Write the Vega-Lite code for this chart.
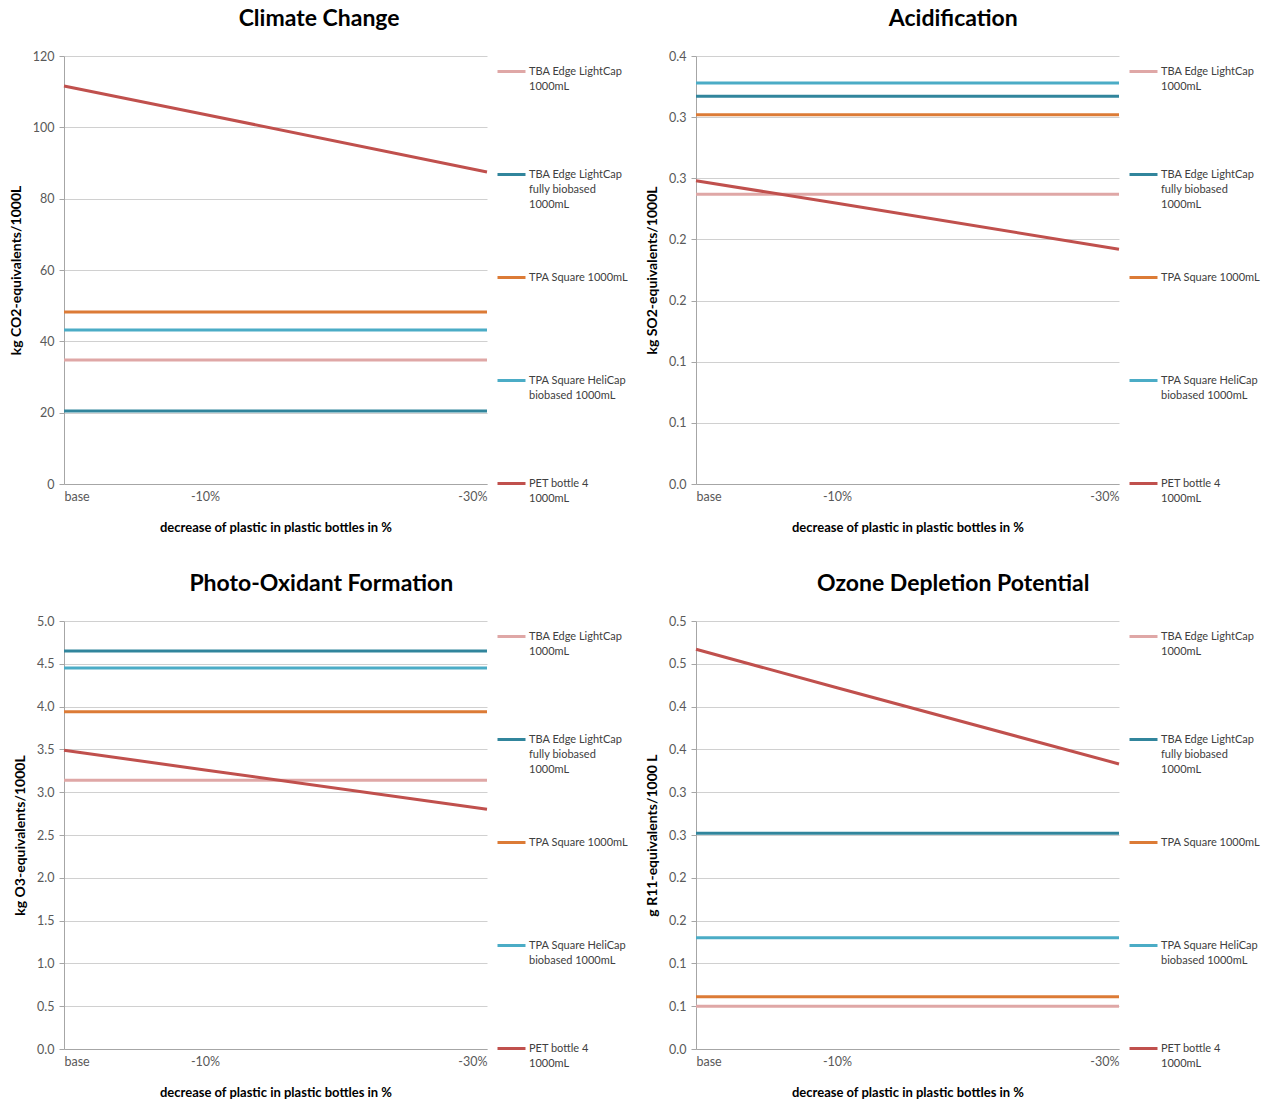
{
  "$schema": "https://vega.github.io/schema/vega-lite/v6.json",
  "background": "white",
  "padding": {"left": 9, "top": 8, "right": 2, "bottom": 5},
  "config": {
    "font": "Lato",
    "view": {"stroke": null},
    "title": {"fontSize": 23, "fontWeight": "bold", "color": "#000000", "anchor": "middle", "frame": "bounds", "offset": 19},
    "axis": {"labelFont": "Lato", "labelFontSize": 12.5, "labelColor": "#595959", "titleFontSize": 13, "titleFontWeight": "bold", "titleColor": "#000000", "domainColor": "#A6A6A6", "tickColor": "#A6A6A6", "gridColor": "#D0D0D0", "gridWidth": 1},
    "axisX": {"grid": false, "ticks": false, "labelPadding": 6, "titlePadding": 19, "labelFlush": true},
    "axisY": {"tickSize": 5, "labelPadding": 5, "titlePadding": 9, "titleFontSize": 14},
    "legend": {"title": null, "symbolType": "stroke", "symbolSize": 784, "symbolStrokeWidth": 3, "labelFontSize": 11, "labelColor": "#404040", "labelFont": "Lato", "gridAlign": "all", "rowPadding": 52, "offset": 3, "labelOffset": 2, "labelLimit": 200, "padding": 0},
    "style": {"guide-label": {"lineHeight": 15}},
    "concat": {"spacing": 20}
  },
  "data": {"values": [
    {"chart": "Climate Change", "product": "TBA Edge LightCap 1000mL", "x": 0, "value": 34.8},
    {"chart": "Climate Change", "product": "TBA Edge LightCap 1000mL", "x": 10, "value": 34.8},
    {"chart": "Climate Change", "product": "TBA Edge LightCap 1000mL", "x": 30, "value": 34.8},
    {"chart": "Climate Change", "product": "TBA Edge LightCap fully biobased 1000mL", "x": 0, "value": 20.5},
    {"chart": "Climate Change", "product": "TBA Edge LightCap fully biobased 1000mL", "x": 10, "value": 20.5},
    {"chart": "Climate Change", "product": "TBA Edge LightCap fully biobased 1000mL", "x": 30, "value": 20.5},
    {"chart": "Climate Change", "product": "TPA Square 1000mL", "x": 0, "value": 48.2},
    {"chart": "Climate Change", "product": "TPA Square 1000mL", "x": 10, "value": 48.2},
    {"chart": "Climate Change", "product": "TPA Square 1000mL", "x": 30, "value": 48.2},
    {"chart": "Climate Change", "product": "TPA Square HeliCap biobased 1000mL", "x": 0, "value": 43.2},
    {"chart": "Climate Change", "product": "TPA Square HeliCap biobased 1000mL", "x": 10, "value": 43.2},
    {"chart": "Climate Change", "product": "TPA Square HeliCap biobased 1000mL", "x": 30, "value": 43.2},
    {"chart": "Climate Change", "product": "PET bottle 4 1000mL", "x": 0, "value": 111.6},
    {"chart": "Climate Change", "product": "PET bottle 4 1000mL", "x": 10, "value": 103.6},
    {"chart": "Climate Change", "product": "PET bottle 4 1000mL", "x": 30, "value": 87.5},

    {"chart": "Acidification", "product": "TBA Edge LightCap 1000mL", "x": 0, "value": 0.237},
    {"chart": "Acidification", "product": "TBA Edge LightCap 1000mL", "x": 10, "value": 0.237},
    {"chart": "Acidification", "product": "TBA Edge LightCap 1000mL", "x": 30, "value": 0.237},
    {"chart": "Acidification", "product": "TBA Edge LightCap fully biobased 1000mL", "x": 0, "value": 0.317},
    {"chart": "Acidification", "product": "TBA Edge LightCap fully biobased 1000mL", "x": 10, "value": 0.317},
    {"chart": "Acidification", "product": "TBA Edge LightCap fully biobased 1000mL", "x": 30, "value": 0.317},
    {"chart": "Acidification", "product": "TPA Square 1000mL", "x": 0, "value": 0.302},
    {"chart": "Acidification", "product": "TPA Square 1000mL", "x": 10, "value": 0.302},
    {"chart": "Acidification", "product": "TPA Square 1000mL", "x": 30, "value": 0.302},
    {"chart": "Acidification", "product": "TPA Square HeliCap biobased 1000mL", "x": 0, "value": 0.328},
    {"chart": "Acidification", "product": "TPA Square HeliCap biobased 1000mL", "x": 10, "value": 0.328},
    {"chart": "Acidification", "product": "TPA Square HeliCap biobased 1000mL", "x": 30, "value": 0.328},
    {"chart": "Acidification", "product": "PET bottle 4 1000mL", "x": 0, "value": 0.248},
    {"chart": "Acidification", "product": "PET bottle 4 1000mL", "x": 10, "value": 0.2295},
    {"chart": "Acidification", "product": "PET bottle 4 1000mL", "x": 30, "value": 0.192},

    {"chart": "Photo-Oxidant Formation", "product": "TBA Edge LightCap 1000mL", "x": 0, "value": 3.14},
    {"chart": "Photo-Oxidant Formation", "product": "TBA Edge LightCap 1000mL", "x": 10, "value": 3.14},
    {"chart": "Photo-Oxidant Formation", "product": "TBA Edge LightCap 1000mL", "x": 30, "value": 3.14},
    {"chart": "Photo-Oxidant Formation", "product": "TBA Edge LightCap fully biobased 1000mL", "x": 0, "value": 4.65},
    {"chart": "Photo-Oxidant Formation", "product": "TBA Edge LightCap fully biobased 1000mL", "x": 10, "value": 4.65},
    {"chart": "Photo-Oxidant Formation", "product": "TBA Edge LightCap fully biobased 1000mL", "x": 30, "value": 4.65},
    {"chart": "Photo-Oxidant Formation", "product": "TPA Square 1000mL", "x": 0, "value": 3.94},
    {"chart": "Photo-Oxidant Formation", "product": "TPA Square 1000mL", "x": 10, "value": 3.94},
    {"chart": "Photo-Oxidant Formation", "product": "TPA Square 1000mL", "x": 30, "value": 3.94},
    {"chart": "Photo-Oxidant Formation", "product": "TPA Square HeliCap biobased 1000mL", "x": 0, "value": 4.45},
    {"chart": "Photo-Oxidant Formation", "product": "TPA Square HeliCap biobased 1000mL", "x": 10, "value": 4.45},
    {"chart": "Photo-Oxidant Formation", "product": "TPA Square HeliCap biobased 1000mL", "x": 30, "value": 4.45},
    {"chart": "Photo-Oxidant Formation", "product": "PET bottle 4 1000mL", "x": 0, "value": 3.49},
    {"chart": "Photo-Oxidant Formation", "product": "PET bottle 4 1000mL", "x": 10, "value": 3.26},
    {"chart": "Photo-Oxidant Formation", "product": "PET bottle 4 1000mL", "x": 30, "value": 2.80},

    {"chart": "Ozone Depletion Potential", "product": "TBA Edge LightCap 1000mL", "x": 0, "value": 0.050},
    {"chart": "Ozone Depletion Potential", "product": "TBA Edge LightCap 1000mL", "x": 10, "value": 0.050},
    {"chart": "Ozone Depletion Potential", "product": "TBA Edge LightCap 1000mL", "x": 30, "value": 0.050},
    {"chart": "Ozone Depletion Potential", "product": "TBA Edge LightCap fully biobased 1000mL", "x": 0, "value": 0.252},
    {"chart": "Ozone Depletion Potential", "product": "TBA Edge LightCap fully biobased 1000mL", "x": 10, "value": 0.252},
    {"chart": "Ozone Depletion Potential", "product": "TBA Edge LightCap fully biobased 1000mL", "x": 30, "value": 0.252},
    {"chart": "Ozone Depletion Potential", "product": "TPA Square 1000mL", "x": 0, "value": 0.061},
    {"chart": "Ozone Depletion Potential", "product": "TPA Square 1000mL", "x": 10, "value": 0.061},
    {"chart": "Ozone Depletion Potential", "product": "TPA Square 1000mL", "x": 30, "value": 0.061},
    {"chart": "Ozone Depletion Potential", "product": "TPA Square HeliCap biobased 1000mL", "x": 0, "value": 0.130},
    {"chart": "Ozone Depletion Potential", "product": "TPA Square HeliCap biobased 1000mL", "x": 10, "value": 0.130},
    {"chart": "Ozone Depletion Potential", "product": "TPA Square HeliCap biobased 1000mL", "x": 30, "value": 0.130},
    {"chart": "Ozone Depletion Potential", "product": "PET bottle 4 1000mL", "x": 0, "value": 0.467},
    {"chart": "Ozone Depletion Potential", "product": "PET bottle 4 1000mL", "x": 10, "value": 0.422},
    {"chart": "Ozone Depletion Potential", "product": "PET bottle 4 1000mL", "x": 30, "value": 0.333}
  ]},
  "resolve": {"scale": {"color": "independent"}, "legend": {"color": "independent"}},
  "spacing": 38,
  "vconcat": [
    {
      "resolve": {"scale": {"color": "independent"}, "legend": {"color": "independent"}},
      "spacing": 16,
      "hconcat": [
        {
          "title": "Climate Change",
          "width": 423, "height": 428,
          "transform": [{"filter": "datum.chart == 'Climate Change'"}],
          "mark": {"type": "line", "strokeWidth": 3},
          "encoding": {
            "x": {"field": "x", "type": "quantitative", "scale": {"domain": [0, 30], "nice": false}, "axis": {"values": [0, 10, 30], "labelExpr": "datum.value == 0 ? 'base' : '-' + datum.value + '%'", "title": "decrease of  plastic in plastic bottles in %"}},
            "y": {"field": "value", "type": "quantitative", "scale": {"domain": [0, 120], "nice": false}, "axis": {"values": [0, 20, 40, 60, 80, 100, 120], "title": "kg CO2-equivalents/1000L"}},
            "color": {"field": "product", "type": "nominal",
              "scale": {"domain": ["TBA Edge LightCap 1000mL", "TBA Edge LightCap fully biobased 1000mL", "TPA Square 1000mL", "TPA Square HeliCap biobased 1000mL", "PET bottle 4 1000mL"], "range": ["#DFA7A6", "#31859C", "#DC7B36", "#4BACC6", "#C0504D"]},
              "legend": {"labelExpr": "datum.label == 'TBA Edge LightCap 1000mL' ? ['TBA Edge LightCap', '1000mL'] : datum.label == 'TBA Edge LightCap fully biobased 1000mL' ? ['TBA Edge LightCap', 'fully biobased', '1000mL'] : datum.label == 'TPA Square HeliCap biobased 1000mL' ? ['TPA Square HeliCap', 'biobased 1000mL'] : datum.label == 'PET bottle 4 1000mL' ? ['PET bottle 4', '1000mL'] : datum.label"}}
          }
        },
        {
          "title": "Acidification",
          "width": 423, "height": 428,
          "transform": [{"filter": "datum.chart == 'Acidification'"}],
          "mark": {"type": "line", "strokeWidth": 3},
          "encoding": {
            "x": {"field": "x", "type": "quantitative", "scale": {"domain": [0, 30], "nice": false}, "axis": {"values": [0, 10, 30], "labelExpr": "datum.value == 0 ? 'base' : '-' + datum.value + '%'", "title": "decrease of  plastic in plastic bottles in %"}},
            "y": {"field": "value", "type": "quantitative", "scale": {"domain": [0, 0.35], "nice": false}, "axis": {"values": [0, 0.05, 0.1, 0.15, 0.2, 0.25, 0.3, 0.35], "labelExpr": "format(round(datum.value*10)/10, '.1f')", "title": "kg SO2-equivalents/1000L"}},
            "color": {"field": "product", "type": "nominal",
              "scale": {"domain": ["TBA Edge LightCap 1000mL", "TBA Edge LightCap fully biobased 1000mL", "TPA Square 1000mL", "TPA Square HeliCap biobased 1000mL", "PET bottle 4 1000mL"], "range": ["#DFA7A6", "#31859C", "#DC7B36", "#4BACC6", "#C0504D"]},
              "legend": {"labelExpr": "datum.label == 'TBA Edge LightCap 1000mL' ? ['TBA Edge LightCap', '1000mL'] : datum.label == 'TBA Edge LightCap fully biobased 1000mL' ? ['TBA Edge LightCap', 'fully biobased', '1000mL'] : datum.label == 'TPA Square HeliCap biobased 1000mL' ? ['TPA Square HeliCap', 'biobased 1000mL'] : datum.label == 'PET bottle 4 1000mL' ? ['PET bottle 4', '1000mL'] : datum.label"}}
          }
        }
      ]
    },
    {
      "resolve": {"scale": {"color": "independent"}, "legend": {"color": "independent"}},
      "spacing": 16,
      "hconcat": [
        {
          "title": "Photo-Oxidant Formation",
          "width": 423, "height": 428,
          "transform": [{"filter": "datum.chart == 'Photo-Oxidant Formation'"}],
          "mark": {"type": "line", "strokeWidth": 3},
          "encoding": {
            "x": {"field": "x", "type": "quantitative", "scale": {"domain": [0, 30], "nice": false}, "axis": {"values": [0, 10, 30], "labelExpr": "datum.value == 0 ? 'base' : '-' + datum.value + '%'", "title": "decrease of  plastic in plastic bottles in %"}},
            "y": {"field": "value", "type": "quantitative", "scale": {"domain": [0, 5], "nice": false}, "axis": {"values": [0, 0.5, 1, 1.5, 2, 2.5, 3, 3.5, 4, 4.5, 5], "format": ".1f", "title": "kg O3-equivalents/1000L"}},
            "color": {"field": "product", "type": "nominal",
              "scale": {"domain": ["TBA Edge LightCap 1000mL", "TBA Edge LightCap fully biobased 1000mL", "TPA Square 1000mL", "TPA Square HeliCap biobased 1000mL", "PET bottle 4 1000mL"], "range": ["#DFA7A6", "#31859C", "#DC7B36", "#4BACC6", "#C0504D"]},
              "legend": {"labelExpr": "datum.label == 'TBA Edge LightCap 1000mL' ? ['TBA Edge LightCap', '1000mL'] : datum.label == 'TBA Edge LightCap fully biobased 1000mL' ? ['TBA Edge LightCap', 'fully biobased', '1000mL'] : datum.label == 'TPA Square HeliCap biobased 1000mL' ? ['TPA Square HeliCap', 'biobased 1000mL'] : datum.label == 'PET bottle 4 1000mL' ? ['PET bottle 4', '1000mL'] : datum.label"}}
          }
        },
        {
          "title": "Ozone Depletion Potential",
          "width": 423, "height": 428,
          "transform": [{"filter": "datum.chart == 'Ozone Depletion Potential'"}],
          "mark": {"type": "line", "strokeWidth": 3},
          "encoding": {
            "x": {"field": "x", "type": "quantitative", "scale": {"domain": [0, 30], "nice": false}, "axis": {"values": [0, 10, 30], "labelExpr": "datum.value == 0 ? 'base' : '-' + datum.value + '%'", "title": "decrease of  plastic in plastic bottles in %"}},
            "y": {"field": "value", "type": "quantitative", "scale": {"domain": [0, 0.5], "nice": false}, "axis": {"values": [0, 0.05, 0.1, 0.15, 0.2, 0.25, 0.3, 0.35, 0.4, 0.45, 0.5], "labelExpr": "format(round(datum.value*10)/10, '.1f')", "title": "g R11-equivalents/1000 L"}},
            "color": {"field": "product", "type": "nominal",
              "scale": {"domain": ["TBA Edge LightCap 1000mL", "TBA Edge LightCap fully biobased 1000mL", "TPA Square 1000mL", "TPA Square HeliCap biobased 1000mL", "PET bottle 4 1000mL"], "range": ["#DFA7A6", "#31859C", "#DC7B36", "#4BACC6", "#C0504D"]},
              "legend": {"labelExpr": "datum.label == 'TBA Edge LightCap 1000mL' ? ['TBA Edge LightCap', '1000mL'] : datum.label == 'TBA Edge LightCap fully biobased 1000mL' ? ['TBA Edge LightCap', 'fully biobased', '1000mL'] : datum.label == 'TPA Square HeliCap biobased 1000mL' ? ['TPA Square HeliCap', 'biobased 1000mL'] : datum.label == 'PET bottle 4 1000mL' ? ['PET bottle 4', '1000mL'] : datum.label"}}
          }
        }
      ]
    }
  ]
}
